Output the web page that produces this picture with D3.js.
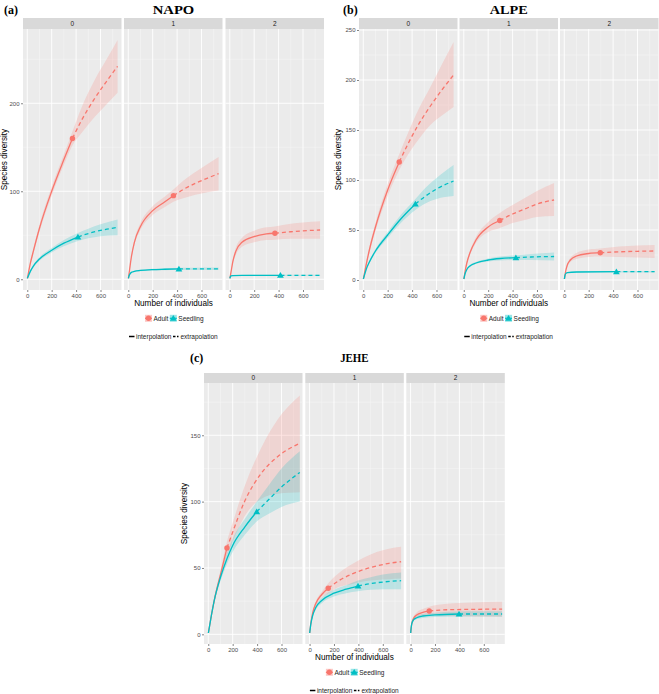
<!DOCTYPE html>
<html><head><meta charset="utf-8">
<script src="https://cdnjs.cloudflare.com/ajax/libs/d3/7.8.5/d3.min.js"></script>
<style>body{margin:0;background:#fff}svg{display:block}</style>
</head><body>
<script>
// ---------------- DATA ----------------
const sites = ["NAPO", "ALPE", "JEHE"];
const panelTags = ["(a)", "(b)", "(c)"];
const orders = ["0", "1", "2"];
const groups = ["Adult", "Seedling"];
const xTicks = [0, 200, 400, 600];
const xMinorTicks = [100, 300, 500, 700];
const yTicksNAPO = [0, 100, 200];
const yMinorNAPO = [50, 150, 250];
const yTicksALPE = [0, 50, 100, 150, 200, 250];
const yMinorALPE = [25, 75, 125, 175, 225];
const yTicksJEHE = [0, 50, 100, 150];
const yMinorJEHE = [25, 75, 125, 175];
// observed sample sizes [Adult, Seedling]
const obsNAPO = [370, 415];
const obsALPE = [295, 427];
const obsJEHE = [153, 397];
// rows: [individuals m, estimate, lower CI, upper CI]
const napoAdultQ0 = [[1,1,1,1],[25,18,16,20],[50,32,29,35],[100,58,54,62],[200,100,95,105],[300,136,130,142],[370,160,152,168],[450,182,167,197],[550,205,184,226],[650,225,199,250],[740,242,212,272]];
const napoSeedQ0 = [[1,1,1,1],[25,9,8,10],[50,15,13.5,16.5],[100,23,21,25],[200,33,30.5,35.5],[300,41,37.5,44.5],[415,48,43.5,52.5],[500,52,46.5,57.5],[600,55.5,49,62.5],[740,59,50,68]];
const napoAdultQ1 = [[1,1,1,1],[10,10,9,11],[25,25,23,27],[50,42,39,45],[100,60,56,64],[200,78,73,83],[300,88,82,94],[370,95,88,102],[450,102,92,112],[550,109,96,122],[650,115,99,131],[740,120,101,139]];
const napoSeedQ1 = [[1,1,1,1],[10,5,4.5,5.5],[25,7.8,7.2,8.4],[50,9,8.3,9.7],[100,10,9.2,10.8],[200,11,10,12],[300,11.4,10.3,12.5],[415,11.7,10.5,13],[550,11.8,10.5,13.2],[740,11.8,10.5,13.3]];
const napoAdultQ2 = [[1,1,1,1],[10,8,7.5,8.5],[25,20,18,22],[50,32,28,36],[100,42,37,47],[200,48.5,42,55],[300,51.5,44.5,59],[370,52.3,45,60],[500,54,46,63],[600,55,46,64.5],[740,56,46,66]];
const napoSeedQ2 = [[1,1,1,1],[5,3,2.7,3.3],[10,3.8,3.4,4.2],[25,4.2,3.8,4.7],[100,4.4,4,4.9],[415,4.5,4,5.1],[740,4.5,4,5.1]];

const alpeAdultQ0 = [[1,1,1,1],[25,16,14,18],[50,30,27,33],[100,53,49,57],[200,90,84,96],[295,118,110,126],[370,137,126,148],[450,155,140,170],[550,174,155,193],[650,191,165,217],[740,205,173,238]];
const alpeSeedQ0 = [[1,1,1,1],[25,11,10,12],[50,18,16.5,19.5],[100,29,27,31],[200,45,42,48],[300,60,56,64],[427,76,70,81],[500,83,76,91],[600,91,81,102],[740,99,84,115]];
const alpeAdultQ1 = [[1,1,1,1],[10,8,7.5,8.5],[25,17,15.5,18.5],[50,27,25,29],[100,40,37,43],[200,53,48,58],[295,59.5,52,67],[400,66,57,75],[500,71,60,82],[600,76,63,89],[740,80,64,97]];
const alpeSeedQ1 = [[1,1,1,1],[10,6,5.5,6.5],[25,10.5,9.8,11.2],[50,14,13,15],[100,17,16,18],[200,20,18.5,21.5],[300,21.5,19.5,23.5],[427,22.3,20,24.7],[550,23,20,26],[740,23.5,19.5,27.5]];
const alpeAdultQ2 = [[1,1,1,1],[10,8,7.5,8.5],[25,15,13.5,16.5],[50,20,18,22],[100,24,21,27],[200,26.5,23,30.5],[295,27.3,23.5,31.5],[450,28.2,23,33.5],[600,28.7,22.5,34.5],[740,29,22,35]];
const alpeSeedQ2 = [[1,1,1,1],[5,4,3.7,4.3],[10,6,5.6,6.4],[25,7.3,6.8,7.8],[100,8,7.4,8.6],[427,8.3,7.6,9],[740,8.3,7.6,9]];

const jeheAdultQ0 = [[1,1,1,1],[25,14,13,15],[50,26,24,28],[100,45,42,48],[153,65,60,70],[200,77,70,84],[292,99,88,110],[431,121,102,140],[570,134,106,162],[750,144,107,180]];
const jeheSeedQ0 = [[1,1,1,1],[25,14,13,15],[50,26,24,28],[100,43,40,46],[153,57,53,61],[200,67,62,72],[300,81,75,87],[397,92.4,85,100],[500,102,91,113],[600,111,96,125],[750,122,100,138]];
const jeheAdultQ1 = [[1,1,1,1],[10,8,7.5,8.5],[25,16,15,17],[50,23,21.5,24.5],[100,30,28,32],[153,34.7,31,38.5],[250,41,36,47],[350,45.5,38,53],[450,49,40,58],[550,51.5,41,62],[650,53.5,41.5,64.5],[750,54.7,42,66]];
const jeheSeedQ1 = [[1,1,1,1],[10,7.5,7,8],[25,14,13,15],[50,20,18.5,21.5],[100,25.5,23.5,27.5],[200,31,28.5,33.5],[300,34,31,37],[397,36.4,32.5,40.5],[500,38.2,33.5,43],[600,39.4,34,45],[750,40.4,34,46.5]];
const jeheAdultQ2 = [[1,1,1,1],[5,5,4.6,5.4],[10,8,7.2,8.8],[25,12,10.5,13.5],[50,14.5,12.5,16.5],[100,16.5,14,19],[153,17.6,14.5,20.8],[300,18.5,14,23],[500,18.8,13.5,24],[750,19,13.3,24.6]];
const jeheSeedQ2 = [[1,1,1,1],[5,5,4.7,5.3],[10,8,7.5,8.5],[25,11,10,12],[50,12.5,11.3,13.7],[100,13.8,12.3,15.3],[200,14.6,13,16.3],[397,15.3,13.5,17.2],[550,15.3,13.4,17.3],[750,15.3,13.3,17.4]];

// ---------------- LAYOUT ----------------
const W = 659, H = 694;
const colors = {Adult: "#F8766D", Seedling: "#00BFC4"};
const xDomain = [-35, 772];
const facetW = 98.5;

const panels = [
  {tag: panelTags[0], title: sites[0], tagX: 4, titleY: 13.8, titleLen: 41.5,
   facetX: [23, 124, 225.5], stripTop: 18, top: 29, bottom: 290, yDomain: [-12.2, 284.4],
   yTitleX: 6.5, yTicks: yTicksNAPO, yMinor: yMinorNAPO, obs: obsNAPO,
   series: [[napoAdultQ0, napoSeedQ0], [napoAdultQ1, napoSeedQ1], [napoAdultQ2, napoSeedQ2]]},
  {tag: panelTags[1], title: sites[1], tagX: 343, titleY: 13.8, titleLen: 38,
   facetX: [359, 459.5, 560], stripTop: 18, top: 29, bottom: 290, yDomain: [-10, 251],
   yTitleX: 340.5, yTicks: yTicksALPE, yMinor: yMinorALPE, obs: obsALPE,
   series: [[alpeAdultQ0, alpeSeedQ0], [alpeAdultQ1, alpeSeedQ1], [alpeAdultQ2, alpeSeedQ2]]},
  {tag: panelTags[2], title: sites[2], tagX: 190, titleY: 361.5, titleLen: 28.5,
   facetX: [204, 305.3, 406.3], stripTop: 373, top: 383, bottom: 644, yDomain: [-7.3, 189.4],
   yTitleX: 186.5, yTicks: yTicksJEHE, yMinor: yMinorJEHE, obs: obsJEHE,
   series: [[jeheAdultQ0, jeheSeedQ0], [jeheAdultQ1, jeheSeedQ1], [jeheAdultQ2, jeheSeedQ2]]}
];

const svg = d3.select("body").append("svg").attr("width", W).attr("height", H)
  .style("font-family", "'Liberation Sans', Arial, sans-serif");
svg.append("rect").attr("width", W).attr("height", H).attr("fill", "#fff");

function drawPoint(g, gi, cx, cy, color) {
  if (gi === 0) {
    g.append("circle").attr("cx", cx).attr("cy", cy).attr("r", 2.7).attr("fill", color);
  } else {
    g.append("path").attr("d", d3.symbol(d3.symbolTriangle, 20)())
      .attr("transform", `translate(${cx},${cy + 0.6})`).attr("fill", color);
  }
}

panels.forEach(p => {
  const cx = (p.facetX[0] + p.facetX[2] + facetW) / 2;
  // tag and title
  svg.append("text").attr("x", p.tagX).attr("y", p.titleY)
    .attr("font-family", "'Liberation Serif', 'Times New Roman', serif")
    .attr("font-weight", "bold").attr("font-size", 12).attr("fill", "#000").text(p.tag);
  svg.append("text").attr("x", cx).attr("y", p.titleY).attr("text-anchor", "middle")
    .attr("font-family", "'Liberation Serif', 'Times New Roman', serif")
    .attr("font-weight", "bold").attr("font-size", 12).attr("fill", "#000")
    .attr("textLength", p.titleLen).attr("lengthAdjust", "spacingAndGlyphs").text(p.title);

  const y = d3.scaleLinear().domain(p.yDomain).range([p.bottom, p.top]);

  p.facetX.forEach((fx, k) => {
    const x = d3.scaleLinear().domain(xDomain).range([fx, fx + facetW]);
    const g = svg.append("g");
    g.append("rect").attr("x", fx).attr("y", p.top).attr("width", facetW)
      .attr("height", p.bottom - p.top).attr("fill", "#EBEBEB");
    // minor grid
    xMinorTicks.forEach(t => g.append("line").attr("x1", x(t)).attr("x2", x(t))
      .attr("y1", p.top).attr("y2", p.bottom).attr("stroke", "#F7F7F7").attr("stroke-width", 0.5));
    p.yMinor.forEach(t => g.append("line").attr("x1", fx).attr("x2", fx + facetW)
      .attr("y1", y(t)).attr("y2", y(t)).attr("stroke", "#F7F7F7").attr("stroke-width", 0.5));
    // major grid
    xTicks.forEach(t => g.append("line").attr("x1", x(t)).attr("x2", x(t))
      .attr("y1", p.top).attr("y2", p.bottom).attr("stroke", "#fff").attr("stroke-width", 0.9));
    p.yTicks.forEach(t => g.append("line").attr("x1", fx).attr("x2", fx + facetW)
      .attr("y1", y(t)).attr("y2", y(t)).attr("stroke", "#fff").attr("stroke-width", 0.9));

    const area = d3.area().x(d => x(d[0])).y0(d => y(d[2])).y1(d => y(d[3])).curve(d3.curveMonotoneX);
    const line = d3.line().x(d => x(d[0])).y(d => y(d[1])).curve(d3.curveMonotoneX);

    p.series[k].forEach((rows, gi) => {
      const color = colors[groups[gi]];
      g.append("path").attr("d", area(rows)).attr("fill", color).attr("fill-opacity", 0.2);
    });
    p.series[k].forEach((rows, gi) => {
      const color = colors[groups[gi]];
      const n = p.obs[gi];
      g.append("path").attr("d", line(rows.filter(d => d[0] <= n))).attr("fill", "none")
        .attr("stroke", color).attr("stroke-width", 1.3);
      g.append("path").attr("d", line(rows.filter(d => d[0] >= n))).attr("fill", "none")
        .attr("stroke", color).attr("stroke-width", 1.3).attr("stroke-dasharray", "4,3");
      const o = rows.find(d => d[0] === n);
      drawPoint(g, gi, x(o[0]), y(o[1]), color);
    });

    // strip
    g.append("rect").attr("x", fx).attr("y", p.stripTop).attr("width", facetW)
      .attr("height", p.top - p.stripTop).attr("fill", "#D9D9D9");
    g.append("text").attr("x", fx + facetW / 2).attr("y", (p.stripTop + p.top) / 2)
      .attr("dy", "0.35em").attr("text-anchor", "middle").attr("font-size", 6.5)
      .attr("fill", "#1A1A1A").text(orders[k]);

    // axes
    const ax = g.append("g").attr("transform", `translate(0,${p.bottom})`)
      .call(d3.axisBottom(x).tickValues(xTicks).tickSize(2).tickPadding(1.5));
    ax.select(".domain").remove();
    ax.selectAll("line").attr("stroke", "#333").attr("stroke-width", 0.6);
    ax.selectAll("text").attr("font-size", 6).attr("fill", "#4D4D4D")
      .attr("font-family", "'Liberation Sans', Arial, sans-serif");
    if (k === 0) {
      const ay = g.append("g").attr("transform", `translate(${fx},0)`)
        .call(d3.axisLeft(y).tickValues(p.yTicks).tickSize(2).tickPadding(1.5));
      ay.select(".domain").remove();
      ay.selectAll("line").attr("stroke", "#333").attr("stroke-width", 0.6);
      ay.selectAll("text").attr("font-size", 6).attr("fill", "#4D4D4D")
        .attr("font-family", "'Liberation Sans', Arial, sans-serif");
    }
  });

  // axis titles
  svg.append("text").attr("x", cx).attr("y", p.bottom + 15.5).attr("text-anchor", "middle")
    .attr("font-size", 8.2).attr("fill", "#000").text("Number of individuals");
  svg.append("text").attr("transform", `translate(${p.yTitleX},${(p.top + p.bottom) / 2}) rotate(-90)`)
    .attr("text-anchor", "middle").attr("font-size", 8.2).attr("fill", "#000").text("Species diversity");

  // legend 1: groups
  const ly1 = p.bottom + 28.3;
  const keyX = [cx - 28.5, cx - 3.7];
  groups.forEach((gname, gi) => {
    const kx = keyX[gi];
    const color = colors[gname];
    svg.append("rect").attr("x", kx).attr("y", ly1 - 3.5).attr("width", 7).attr("height", 7)
      .attr("fill", color).attr("fill-opacity", 0.4);
    svg.append("line").attr("x1", kx).attr("x2", kx + 7).attr("y1", ly1).attr("y2", ly1)
      .attr("stroke", color).attr("stroke-width", 1.2);
    drawPoint(svg, gi, kx + 3.5, ly1, color);
    svg.append("text").attr("x", kx + 8.5).attr("y", ly1).attr("dy", "0.35em")
      .attr("font-size", 6.5).attr("fill", "#1A1A1A").text(gname);
  });
  // legend 2: methods
  const ly2 = p.bottom + 46.5;
  const lx1 = cx - 44.5, lx2 = cx - 0.5;
  svg.append("line").attr("x1", lx1).attr("x2", lx1 + 5.5).attr("y1", ly2).attr("y2", ly2)
    .attr("stroke", "#000").attr("stroke-width", 1.5);
  svg.append("text").attr("x", lx1 + 7).attr("y", ly2).attr("dy", "0.35em")
    .attr("font-size", 6.5).attr("fill", "#1A1A1A").text("interpolation");
  svg.append("line").attr("x1", lx2).attr("x2", lx2 + 5.5).attr("y1", ly2).attr("y2", ly2)
    .attr("stroke", "#000").attr("stroke-width", 1.5).attr("stroke-dasharray", "2.5,1.5");
  svg.append("text").attr("x", lx2 + 7.5).attr("y", ly2).attr("dy", "0.35em")
    .attr("font-size", 6.5).attr("fill", "#1A1A1A").text("extrapolation");
});
</script>
</body></html>
